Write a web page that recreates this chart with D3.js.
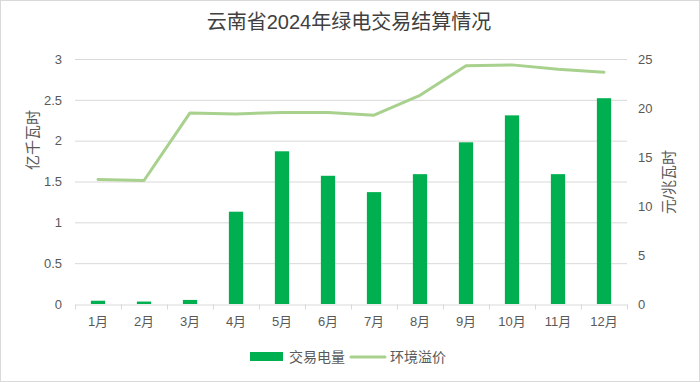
<!DOCTYPE html>
<html>
<head>
<meta charset="utf-8">
<script src="https://cdn.jsdelivr.net/npm/d3@7"></script>
<style>
    body { margin: 0; background: #fff; }
    text { font-family: "Liberation Sans", "Noto Sans CJK SC", sans-serif; }
</style>
</head>
<body>
<script>
const months = ['1月', '2月', '3月', '4月', '5月', '6月', '7月', '8月', '9月', '10月', '11月', '12月'];
// 交易电量, 亿千瓦时
const volume = [0.04, 0.03, 0.05, 1.13, 1.87, 1.57, 1.37, 1.59, 1.98, 2.31, 1.59, 2.52];
// 环境溢价, 元/兆瓦时
const premium = [12.7, 12.6, 19.5, 19.4, 19.55, 19.55, 19.27, 21.3, 24.3, 24.4, 23.96, 23.65];
const leftTicks = [0, 0.5, 1, 1.5, 2, 2.5, 3];
const rightTicks = [0, 5, 10, 15, 20, 25];

const width = 700,
    height = 382;

const plot_left = 75, plot_right = 627, plot_top = 59, plot_bottom = 304;

const barColor = '#00b050',
    lineColor = '#a9d18e',
    gridColor = '#d9d9d9',
    textColor = '#595959';

const svg = d3.select('body')
    .append('svg')
    .attr('width', width)
    .attr('height', height);

svg.append('rect')
    .attr('x', 0.5).attr('y', 0.5)
    .attr('width', width - 1).attr('height', height - 1)
    .attr('fill', '#fff')
    .attr('stroke', gridColor);

const x = d3.scaleBand()
    .domain(months)
    .range([plot_left, plot_right])
    .paddingInner(0.69)
    .paddingOuter(0.345);

const yL = d3.scaleLinear().domain([0, 3]).range([plot_bottom, plot_top]);
const yR = d3.scaleLinear().domain([0, 25]).range([plot_bottom, plot_top]);

// gridlines
svg.append('g')
    .selectAll('line')
    .data(leftTicks.slice(1))
    .enter().append('line')
    .attr('x1', plot_left).attr('x2', plot_right)
    .attr('y1', d => yL(d) + 0.5).attr('y2', d => yL(d) + 0.5)
    .attr('stroke', gridColor)
    .attr('stroke-width', 1);

// left axis
const axL = svg.append('g')
    .attr('transform', 'translate(' + (plot_left - 10) + ',0)')
    .call(d3.axisLeft(yL).tickValues(leftTicks).tickSize(0).tickFormat(d3.format('')));
axL.select('.domain').remove();
axL.selectAll('text')
    .attr('fill', textColor)
    .style('font-size', '13px');

// right axis
const axR = svg.append('g')
    .attr('transform', 'translate(' + (plot_right + 8) + ',0)')
    .call(d3.axisRight(yR).tickValues(rightTicks).tickSize(0));
axR.select('.domain').remove();
axR.selectAll('text')
    .attr('fill', textColor)
    .style('font-size', '13px');

// bars
svg.append('g')
    .selectAll('rect')
    .data(volume)
    .enter().append('rect')
    .attr('x', (d, i) => x(months[i]))
    .attr('y', d => yL(d))
    .attr('width', x.bandwidth())
    .attr('height', d => plot_bottom - yL(d))
    .attr('fill', barColor);

// x axis: boundary ticks
const xb = d3.scaleLinear().domain([0, months.length]).range([plot_left, plot_right]);
const axB = svg.append('g')
    .attr('transform', 'translate(0,' + (plot_bottom + 0.5) + ')')
    .call(d3.axisBottom(xb).tickValues(d3.range(months.length + 1)).tickSize(5).tickSizeOuter(0).tickFormat(''));
axB.selectAll('line, path').attr('stroke', gridColor);

const axLabels = svg.append('g')
    .attr('transform', 'translate(0,' + (plot_bottom + 10) + ')')
    .call(d3.axisBottom(x).tickSize(0));
axLabels.select('.domain').remove();
axLabels.selectAll('text')
    .attr('fill', textColor)
    .style('font-size', '13px');

// line
const line = d3.line()
    .x((d, i) => x(months[i]) + x.bandwidth() / 2)
    .y(d => yR(d));

svg.append('path')
    .datum(premium)
    .attr('d', line)
    .attr('fill', 'none')
    .attr('stroke', lineColor)
    .attr('stroke-width', 3)
    .attr('stroke-linejoin', 'round')
    .attr('stroke-linecap', 'round');

// title
svg.append('text')
    .attr('x', 349).attr('y', 29)
    .attr('text-anchor', 'middle')
    .attr('fill', '#404040')
    .style('font-size', '20px')
    .text('云南省2024年绿电交易结算情况');

// axis titles
svg.append('text')
    .attr('transform', 'translate(38,140) rotate(-90)')
    .attr('text-anchor', 'middle')
    .attr('fill', textColor)
    .style('font-size', '15px')
    .text('亿千瓦时');

svg.append('text')
    .attr('transform', 'translate(674,182) rotate(-90)')
    .attr('text-anchor', 'middle')
    .attr('fill', textColor)
    .style('font-size', '15px')
    .text('元/兆瓦时');

// legend
const legend = svg.append('g');
legend.append('rect')
    .attr('x', 250).attr('y', 352)
    .attr('width', 33).attr('height', 9)
    .attr('fill', barColor);
legend.append('text')
    .attr('x', 289).attr('y', 362)
    .attr('fill', textColor)
    .style('font-size', '14px')
    .text('交易电量');
legend.append('line')
    .attr('x1', 351).attr('x2', 385)
    .attr('y1', 357).attr('y2', 357)
    .attr('stroke', lineColor)
    .attr('stroke-width', 3)
    .attr('stroke-linecap', 'round');
legend.append('text')
    .attr('x', 390).attr('y', 362)
    .attr('fill', textColor)
    .style('font-size', '14px')
    .text('环境溢价');
</script>
</body>
</html>
